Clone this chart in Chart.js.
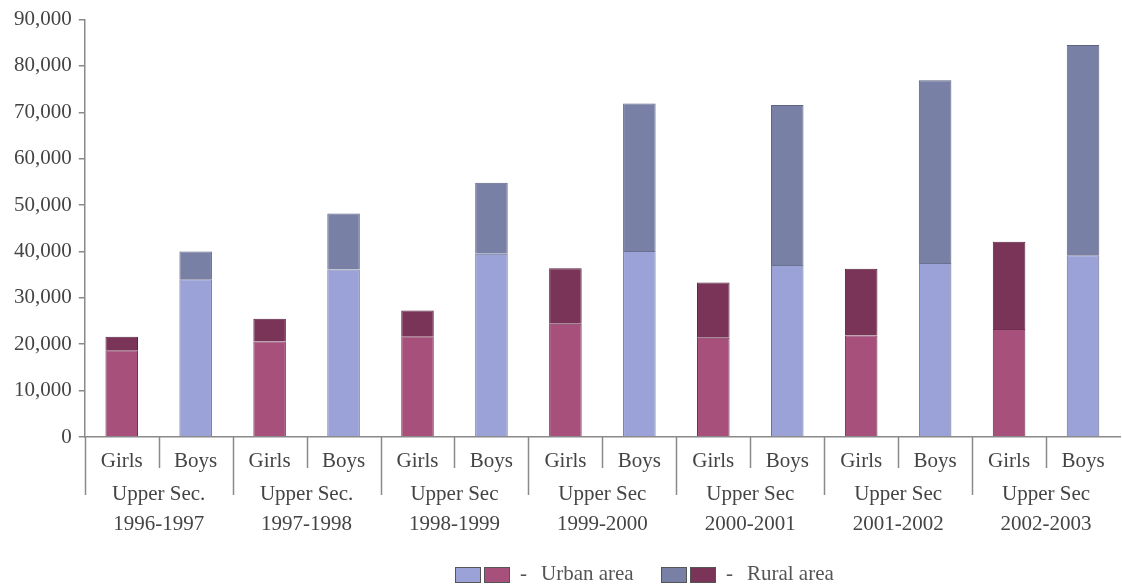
<!DOCTYPE html>
<html>
<head>
<meta charset="utf-8">
<script src="https://cdn.jsdelivr.net/npm/chart.js@4"></script>
<style>
    html, body { margin: 0; padding: 0; background: #fff; }
    #wrap { position: relative; width: 1122px; height: 587px; }
    #legend {
        position: absolute; left: 455px; top: 561px; white-space: nowrap;
        font-family: "Liberation Serif", serif; font-size: 21px; color: #555;
    }
    .box { display: inline-block; box-sizing: border-box; width: 26px; height: 16px; border: 1.5px solid #555; vertical-align: middle; margin-right: 3px; }
    .item { display: inline-block; }
    .item + .item { margin-left: 22px; }
    .dash { margin: 0 14px 0 7px; }
</style>
</head>
<body>
<div id="wrap">
    <canvas id="chart0" width="1122" height="587"></canvas>
    <div id="legend">
        <span class="item"><span class="box" style="background:#9aa2d8"></span><span class="box" style="background:#a8507c"></span><span class="dash">-</span>Urban area</span>
        <span class="item"><span class="box" style="background:#7880a6"></span><span class="box" style="background:#7a3458"></span><span class="dash">-</span>Rural area</span>
    </div>
</div>
<script>
let groupLabels = [
    ['Upper Sec.', '1996-1997'],
    ['Upper Sec.', '1997-1998'],
    ['Upper Sec', '1998-1999'],
    ['Upper Sec', '1999-2000'],
    ['Upper Sec', '2000-2001'],
    ['Upper Sec', '2001-2002'],
    ['Upper Sec', '2002-2003']
];
let subLabels = ['Girls', 'Boys'];

let girlsUrban = [18700, 20600, 21700, 24400, 21400, 21900, 23300];
let girlsRural = [2900, 4900, 5600, 12000, 11900, 14400, 18800];
let boysUrban = [34000, 36100, 39500, 40100, 37100, 37500, 39200];
let boysRural = [6000, 12100, 15300, 31800, 34500, 39400, 45300];

let yTicks = [0, 10000, 20000, 30000, 40000, 50000, 60000, 70000, 80000, 90000];

// one category per bar: Girls, Boys, Girls, Boys...
let barLabels = [];
groupLabels.forEach(() => subLabels.forEach(s => barLabels.push(s)));

function girlsOnly(arr) {
    let out = [];
    arr.forEach(v => { out.push(v); out.push(null); });
    return out;
}
function boysOnly(arr) {
    let out = [];
    arr.forEach(v => { out.push(null); out.push(v); });
    return out;
}

let fontFamily = '"Liberation Serif", "Times New Roman", serif';
let axisColor = '#8a8a8a';

// separator lines under the x axis (between bars and between groups)
let separators = {
    id: 'separators',
    afterDraw(chart) {
        let x = chart.scales.x;
        let ctx = chart.ctx;
        let y0 = chart.chartArea.bottom;
        ctx.save();
        ctx.strokeStyle = axisColor;
        ctx.lineWidth = 1.5;
        for (let i = 0; i < barLabels.length; i++) {
            let px;
            if (i === 0) px = x.left;
            else px = (x.getPixelForTick(i - 1) + x.getPixelForTick(i)) / 2;
            let len = (i % 2 === 0) ? 58 : 31;
            ctx.beginPath();
            ctx.moveTo(Math.round(px) + 0.5, y0);
            ctx.lineTo(Math.round(px) + 0.5, y0 + len);
            ctx.stroke();
        }
        ctx.restore();
    }
};

let chart0 = document.getElementById('chart0');
let currentChart = new Chart(chart0, {
    type: 'bar',
    data: {
        labels: barLabels,
        datasets: [
            { label: 'Girls - Urban area', data: girlsOnly(girlsUrban), backgroundColor: '#a8507c', borderColor: '#6e2e4e' },
            { label: 'Girls - Rural area', data: girlsOnly(girlsRural), backgroundColor: '#7a3458', borderColor: '#5a2040' },
            { label: 'Boys - Urban area', data: boysOnly(boysUrban), backgroundColor: '#9aa2d8', borderColor: '#6a7090' },
            { label: 'Boys - Rural area', data: boysOnly(boysRural), backgroundColor: '#7880a6', borderColor: '#5e6484' }
        ]
    },
    options: {
        responsive: false,
        animation: false,
        layout: { padding: { left: 7, right: 2, top: 16, bottom: 40 } },
        datasets: {
            bar: { barPercentage: 0.44, categoryPercentage: 1.0, borderWidth: 1 }
        },
        plugins: {
            legend: { display: false },
            tooltip: { enabled: false }
        },
        scales: {
            x: {
                stacked: true,
                grid: { display: false },
                border: { display: true, color: axisColor, width: 1.5 },
                ticks: { color: '#444', font: { family: fontFamily, size: 21 }, padding: 4, maxRotation: 0 },
                afterFit: axis => { axis.height = 35; }
            },
            x2: {
                type: 'category',
                position: 'bottom',
                labels: groupLabels,
                grid: { display: false },
                border: { display: false },
                ticks: { color: '#444', font: { family: fontFamily, size: 21, lineHeight: 1.42 }, padding: 0, maxRotation: 0 },
                afterFit: axis => { axis.height = 75; }
            },
            y: {
                stacked: true,
                min: 0,
                max: 90000,
                afterBuildTicks: axis => { axis.ticks = yTicks.map(v => ({ value: v })); },
                grid: { drawOnChartArea: false, drawTicks: true, tickLength: 6, color: axisColor, lineWidth: 1.5 },
                border: { display: true, color: axisColor, width: 1.5 },
                ticks: {
                    color: '#444',
                    font: { family: fontFamily, size: 21 },
                    padding: 7,
                    callback: v => v.toLocaleString('en-US')
                }
            }
        }
    },
    plugins: [separators]
});
</script>
</body>
</html>
